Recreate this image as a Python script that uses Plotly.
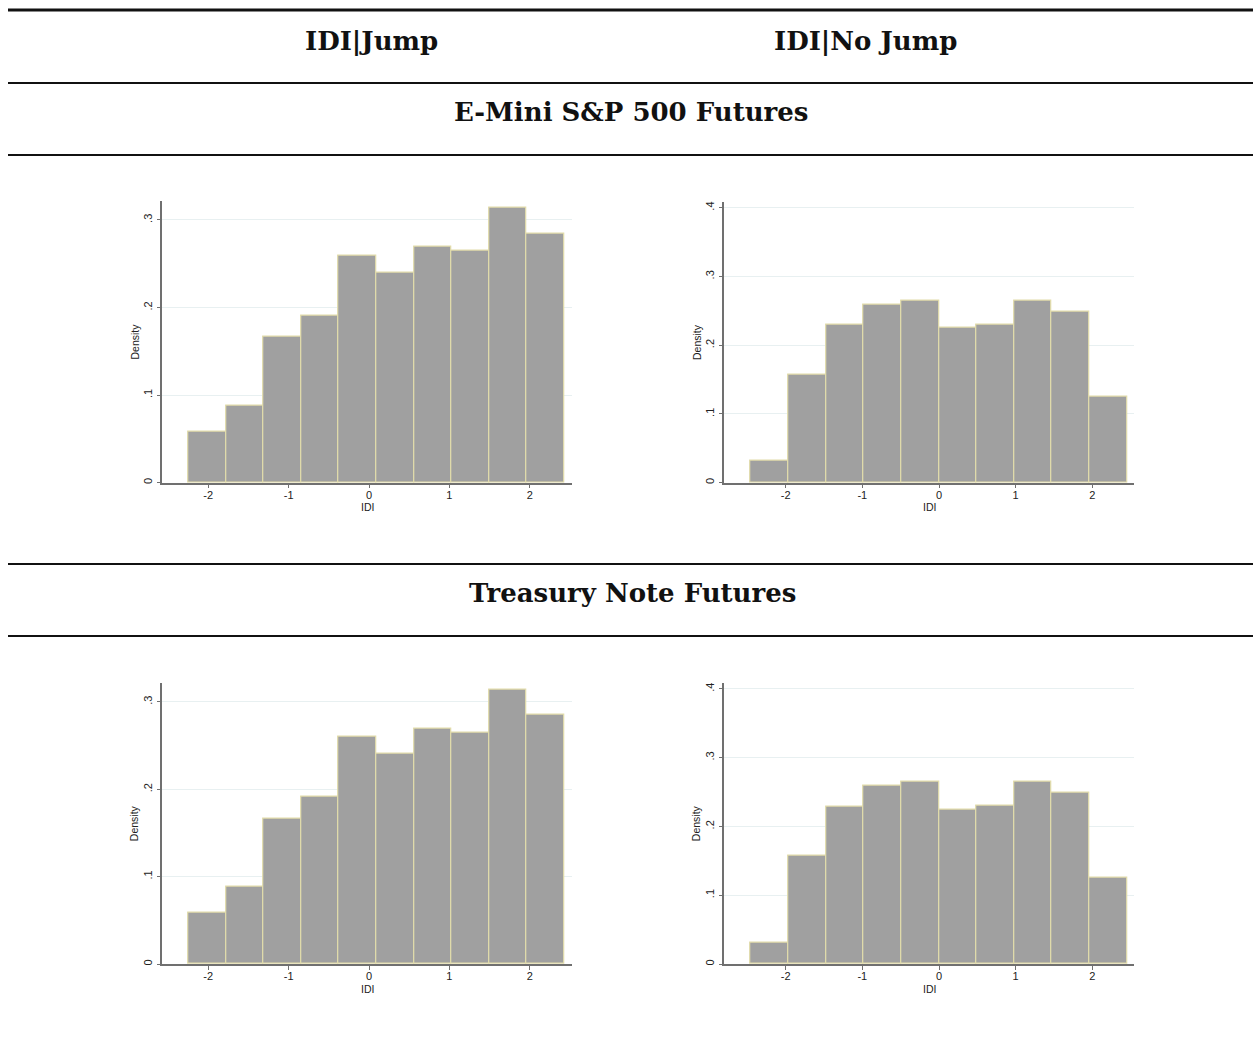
import plotly.graph_objects as go

W, H = 1253, 1040

# ---- data ----
jump_bin_start = -2.247
jump_bin_width = 0.4676
jump_density = [0.0586, 0.0883, 0.1668, 0.1911, 0.2596, 0.2402, 0.2695, 0.2646, 0.3137, 0.2848]

nojump_bin_start = -2.457
nojump_bin_width = 0.491
nojump_density = [0.0315, 0.1576, 0.2293, 0.2594, 0.2652, 0.2250, 0.2303, 0.2652, 0.2487, 0.1251]

x_ticks = [-2, -1, 0, 1, 2]
x_tick_labels = ["-2", "-1", "0", "1", "2"]
y_ticks_jump = [0, 0.1, 0.2, 0.3]
y_tick_labels_jump = ["0", ".1", ".2", ".3"]
y_ticks_nojump = [0, 0.1, 0.2, 0.3, 0.4]
y_tick_labels_nojump = ["0", ".1", ".2", ".3", ".4"]

x_title = "IDI"
y_title = "Density"
column_titles = ["IDI|Jump", "IDI|No Jump"]
panel_titles = ["E-Mini S&P 500 Futures", "Treasury Note Futures"]

# ---- helpers ----
def px_x(p):
    return p / W

def px_y(p):
    return 1 - p / H

fig = go.Figure()

BAR_FILL = "#a0a0a0"
BAR_LINE = "#e2dcaa"
AXIS_COL = "#707070"
GRID_COL = "#e8f0f1"

panels = [
    ("x", "y", jump_density, jump_bin_start, jump_bin_width, (162.3, 571.7), (482.7, 200.7), [-2.571, 2.521], [0, 0.322], y_ticks_jump, y_tick_labels_jump),
    ("x2", "y2", nojump_density, nojump_bin_start, nojump_bin_width, (724.3, 1134.0), (482.7, 201.7), [-2.801, 2.544], [0, 0.4087], y_ticks_nojump, y_tick_labels_nojump),
    ("x3", "y3", jump_density, jump_bin_start, jump_bin_width, (162.3, 571.7), (964.0, 682.7), [-2.571, 2.521], [0, 0.3219], y_ticks_jump, y_tick_labels_jump),
    ("x4", "y4", nojump_density, nojump_bin_start, nojump_bin_width, (724.3, 1134.0), (964.0, 682.7), [-2.801, 2.544], [0, 0.409], y_ticks_nojump, y_tick_labels_nojump),
]

tick_font = dict(family="Liberation Sans, Arial, sans-serif", size=11, color="#222222")
title_font = dict(family="Liberation Sans, Arial, sans-serif", size=10.5, color="#222222")

annotations = []

for i, (xa, ya, dens, start, width, xdom, ydom, xr, yr, yt, yl) in enumerate(panels):
    lefts = [start + k * width for k in range(len(dens))]
    fig.add_trace(go.Bar(
        x=lefts, y=dens, width=[width] * len(dens), offset=0,
        marker=dict(color=BAR_FILL, line=dict(color=BAR_LINE, width=1.2)),
        xaxis=xa, yaxis=ya, showlegend=False, hoverinfo="x+y",
    ))
    sx = "" if i == 0 else str(i + 1)
    fig.update_layout(**{
        "xaxis" + sx: dict(
            domain=[px_x(xdom[0]), px_x(xdom[1])], range=xr, anchor=ya,
            tickvals=x_ticks, ticktext=x_tick_labels, tickfont=tick_font,
            showline=True, linecolor=AXIS_COL, linewidth=1.5, mirror=False,
            ticks="outside", ticklen=4, tickwidth=1.2, tickcolor=AXIS_COL,
            ticklabelstandoff=-3,
            showgrid=False, zeroline=False, fixedrange=True,
        ),
        "yaxis" + sx: dict(
            domain=[px_y(ydom[0]), px_y(ydom[1])], range=yr, anchor=xa,
            tickvals=yt, ticktext=yl, tickfont=tick_font, tickangle=-90,
            showline=True, linecolor=AXIS_COL, linewidth=1.5,
            ticks="outside", ticklen=4, tickwidth=1.2, tickcolor=AXIS_COL,
            showgrid=True, gridcolor=GRID_COL, gridwidth=1, zeroline=False, fixedrange=True,
        ),
    })
    # axis titles as annotations (placed relative to each panel)
    annotations.append(dict(
        text=x_title, xref="paper", yref="paper",
        x=px_x((xdom[0] + xdom[1]) / 2), y=px_y(ydom[0] + 24.5),
        showarrow=False, font=title_font, xanchor="center", yanchor="middle"))
    annotations.append(dict(
        text=y_title, xref="paper", yref="paper", textangle=-90,
        x=px_x(xdom[0] - 27.5), y=px_y((ydom[0] + ydom[1]) / 2),
        showarrow=False, font=title_font, xanchor="center", yanchor="middle"))

# ---- header rules and titles ----
shapes = []
for y_px, lw in [(10, 3), (83, 1.8), (155, 1.8), (564, 1.8), (636, 1.8)]:
    shapes.append(dict(type="line", xref="paper", yref="paper",
                       x0=px_x(8), x1=1, y0=px_y(y_px), y1=px_y(y_px),
                       line=dict(color="#111111", width=lw)))

head_font = dict(family="DejaVu Serif, serif", size=26, color="#111111")
annotations += [
    dict(text="<b>%s</b>" % column_titles[0], x=px_x(371), y=px_y(41), xref="paper", yref="paper",
         showarrow=False, font=head_font, xanchor="center", yanchor="middle"),
    dict(text="<b>%s</b>" % column_titles[1], x=px_x(865), y=px_y(41), xref="paper", yref="paper",
         showarrow=False, font=head_font, xanchor="center", yanchor="middle"),
    dict(text="<b>%s</b>" % panel_titles[0], x=px_x(631), y=px_y(112), xref="paper", yref="paper",
         showarrow=False, font=head_font, xanchor="center", yanchor="middle"),
    dict(text="<b>%s</b>" % panel_titles[1], x=px_x(632), y=px_y(593), xref="paper", yref="paper",
         showarrow=False, font=head_font, xanchor="center", yanchor="middle"),
]

fig.update_layout(
    width=W, height=H, margin=dict(l=0, r=0, t=0, b=0),
    paper_bgcolor="white", plot_bgcolor="white",
    shapes=shapes, annotations=annotations, bargap=0,
)

fig.write_html("out.html", config={"displayModeBar": False})
